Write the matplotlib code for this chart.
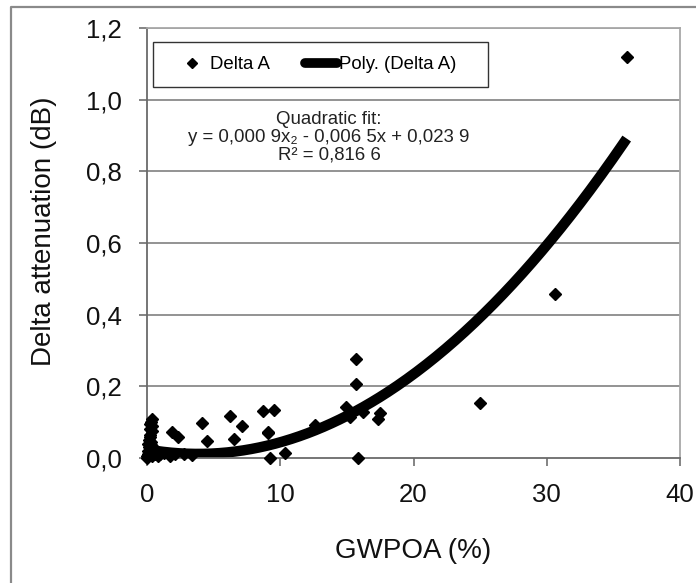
import numpy as np
import matplotlib.pyplot as plt
from matplotlib.lines import Line2D
from matplotlib.patches import Rectangle

plt.rcParams['font.family'] = ['Liberation Sans', 'DejaVu Sans']

# measured points (GWPOA %, delta attenuation dB)
gwpoa = [0.0, 0.0, 0.05, 0.1, 0.1, 0.15, 0.2, 0.2, 0.2, 0.25, 0.3, 0.3, 0.3, 0.35,
         0.4, 0.4, 0.45, 0.5, 0.6, 0.8, 1.0, 1.3, 1.7, 2.1, 2.8, 3.4,
         0.25, 0.3, 0.15, 0.35,
         1.9, 2.3, 4.1, 4.5, 6.2, 7.1, 6.5, 8.7, 9.1, 9.5, 9.1, 9.2, 10.35,
         12.6, 14.9, 15.2, 15.7, 15.7, 15.8, 16.2, 17.3, 17.5,
         25.0, 30.6, 36.0]
delta_a = [0.005, 0.0, 0.02, 0.04, 0.01, 0.03, 0.06, 0.015, 0.095, 0.08, 0.1, 0.02, 0.045, 0.11,
           0.09, 0.005, 0.03, 0.015, 0.01, 0.005, 0.01, 0.015, 0.005, 0.01, 0.01, 0.008,
           0.065, 0.035, 0.05, 0.075,
           0.073, 0.059, 0.098, 0.047, 0.117, 0.089, 0.053, 0.131, 0.073, 0.134, 0.07, 0.0, 0.014,
           0.092, 0.142, 0.115, 0.277, 0.207, 0.0, 0.128, 0.11, 0.125,
           0.154, 0.458, 1.12]

# quadratic trend line coefficients (as drawn)
fit_a, fit_b, fit_c = 0.00085, -0.0065, 0.0239
fit_xmax = 36.0

yticks = [0.0, 0.2, 0.4, 0.6, 0.8, 1.0, 1.2]
ytick_labels = ['0,0', '0,2', '0,4', '0,6', '0,8', '1,0', '1,2']
xticks = [0, 10, 20, 30, 40]

fig = plt.figure(figsize=(6.96, 5.83), dpi=100)
ax = fig.add_axes([147 / 696, 1 - 458 / 583, 533 / 696, 430 / 583])

# outer chart frame (left and top visible)
fig.add_artist(Line2D([11 / 696, 11 / 696, 1.0], [0.0, 1 - 7 / 583, 1 - 7 / 583],
                      transform=fig.transFigure, color='#8a8a8a', lw=1.6))

for y in yticks[1:]:
    ax.axhline(y, color='#8a8a8a', lw=1.3, zorder=0)

xf = np.linspace(0, fit_xmax, 300)
ax.plot(xf, fit_a * xf ** 2 + fit_b * xf + fit_c, color='k', lw=7.5,
        solid_capstyle='butt', zorder=2)
ax.plot(gwpoa, delta_a, ls='none', marker='D', ms=6, color='k', clip_on=False, zorder=3)

ax.set_xlim(0, 40)
ax.set_ylim(0, 1.2)
ax.set_xticks(xticks)
ax.set_yticks(yticks)
ax.set_yticklabels(ytick_labels)
ax.tick_params(axis='both', direction='out', length=6, width=1.2, color='#707070',
               labelsize=18.5, labelcolor='#111111')
ax.tick_params(axis='y', pad=12)
ax.tick_params(axis='x', pad=12)
for side in ['left', 'bottom']:
    ax.spines[side].set_color('#6a6a6a')
    ax.spines[side].set_linewidth(1.3)
for side in ['top', 'right']:
    ax.spines[side].set_color('#a8a8a8')
    ax.spines[side].set_linewidth(1.3)

ax.set_xlabel('GWPOA (%)', fontsize=20, color='#111111', labelpad=22)
ax.set_ylabel('Delta attenuation (dB)', fontsize=20, color='#111111', labelpad=21)
ax.yaxis.label.set_y((458 - 231) / 430)

# legend box
bx0, bx1 = (153 - 147) / 533, (488 - 147) / 533
by0, by1 = (458 - 87) / 430, (458 - 42) / 430
ax.add_patch(Rectangle((bx0, by0), bx1 - bx0, by1 - by0, transform=ax.transAxes,
                       fill=False, edgecolor='#333333', lw=1.0, zorder=4))
handles = [Line2D([], [], ls='none', marker='D', ms=5, color='k'),
           Line2D([], [], color='k', lw=7, solid_capstyle='round')]
ax.legend(handles, ['Delta A', 'Poly. (Delta A)'], loc='center',
          bbox_to_anchor=((bx0 + bx1) / 2 - 0.008, (by0 + by1) / 2), ncol=2,
          frameon=False, fontsize=13.4, handlelength=1.7, handletextpad=0.1,
          columnspacing=1.9)

ax.text((329 - 147) / 533, (458 - 137) / 430,
        'Quadratic fit:\ny = 0,000 9x\u2082 - 0,006 5x + 0,023 9\nR\u00b2 = 0,816 6',
        transform=ax.transAxes, ha='center', va='center', fontsize=13.4,
        color='#222222', linespacing=1.07, zorder=4)

fig.savefig('out.png', dpi=100)
